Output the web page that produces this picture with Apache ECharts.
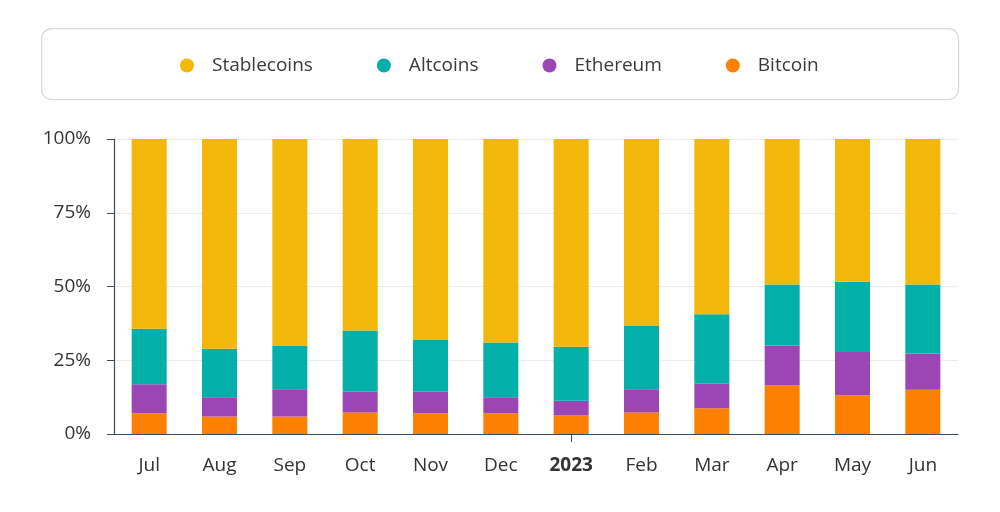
<!DOCTYPE html>
<html>
<head>
<meta charset="utf-8">
<script src="https://cdn.jsdelivr.net/npm/echarts@6/dist/echarts.min.js"></script>
<style>
html,body{margin:0;padding:0;background:#fff;}
#chart{width:1000px;height:512px;}
</style>
</head>
<body>
<div id="chart"></div>
<script>
const categories = ['Jul','Aug','Sep','Oct','Nov','Dec','2023','Feb','Mar','Apr','May','Jun'];
const bitcoin     = [7.0, 5.9, 5.9, 7.3, 7.0, 7.0, 6.3, 7.3, 8.7, 16.5, 13.1, 15.0];
const ethereum    = [9.9, 6.6, 9.3, 7.0, 7.3, 5.5, 5.0, 7.9, 8.3, 13.5, 14.7, 12.3];
const altcoins    = [18.8, 16.4, 14.6, 20.8, 17.6, 18.5, 18.3, 21.4, 23.6, 20.7, 23.8, 23.4];
const stablecoins = [64.3, 71.1, 70.2, 64.9, 68.1, 69.0, 70.4, 63.4, 59.4, 49.3, 48.4, 49.3];
const yTicks = [0, 25, 50, 75, 100];

const FONT = '"Open Sans", "Noto Sans", sans-serif';
const chart = echarts.init(document.getElementById('chart'), null, {renderer:'canvas'});
function mk(name, data, color){
  return {name, type:'bar', stack:'total', data, barWidth:35,
    itemStyle:{color}, emphasis:{disabled:true}};
}
chart.setOption({
  animation:false,
  backgroundColor:'#fff',
  textStyle:{fontFamily:FONT},
  graphic:[{type:'rect', left:41, top:28, shape:{width:917, height:71, r:10},
    style:{fill:'#fff', stroke:'#d9d9d9', lineWidth:1.2}, z:-1}],
  legend:{
    data:['Stablecoins','Altcoins','Ethereum','Bitcoin'],
    left:175, top:51, itemWidth:40, itemHeight:14, itemGap:64,
    icon:'circle',
    textStyle:{fontSize:19, color:'#3a3a3a', fontFamily:FONT}
  },
  grid:{left:114, right:42, top:139, bottom:78},
  xAxis:{
    type:'category', data:categories,
    axisLine:{lineStyle:{color:'#3d4a57', width:1.2}},
    axisTick:{show:true, alignWithLabel:true, length:8,
      interval:function(i, v){ return v === '2023'; },
      lineStyle:{color:'#3d4a57'}},
    axisLabel:{interval:0, fontSize:19, color:'#333', margin:22, fontFamily:FONT,
      formatter:function(v){ return v === '2023' ? '{b|'+v+'}' : v; },
      rich:{b:{fontWeight:'bold', fontSize:19, color:'#333', fontFamily:FONT}}}
  },
  yAxis:{
    type:'value', min:yTicks[0], max:yTicks[yTicks.length-1], interval:25,
    axisLine:{show:true, lineStyle:{color:'#3d4a57', width:1.2}},
    axisTick:{show:true, length:7, lineStyle:{color:'#3d4a57'}},
    axisLabel:{fontSize:19, color:'#333', margin:23, formatter:'{value}%', fontFamily:FONT},
    splitLine:{lineStyle:{color:'#ececec'}}
  },
  series:[
    mk('Bitcoin', bitcoin, '#FE8000'),
    mk('Ethereum', ethereum, '#9C45B5'),
    mk('Altcoins', altcoins, '#02B0A9'),
    mk('Stablecoins', stablecoins, '#F4B70B')
  ]
});
</script>
</body>
</html>
